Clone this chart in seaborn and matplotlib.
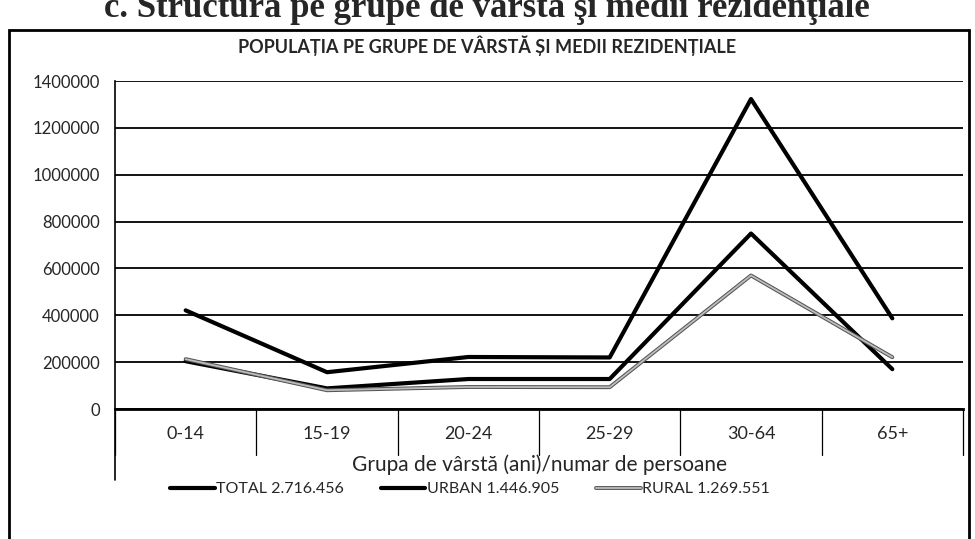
import matplotlib
matplotlib.use("Agg")
import matplotlib.pyplot as plt
import matplotlib.patheffects as pe
from matplotlib.patches import Rectangle
import pandas as pd
import seaborn as sns

# data
age_groups = ["0-14", "15-19", "20-24", "25-29", "30-64", "65+"]
total = [421000, 157000, 222000, 220000, 1323000, 387000]
urban = [204000, 88000, 128000, 128000, 749000, 170000]
rural = [213000, 80000, 94000, 93000, 570000, 221000]
series_names = ["TOTAL 2.716.456", "URBAN 1.446.905", "RURAL 1.269.551"]

df = pd.DataFrame({
    "grupa": age_groups * 3,
    "pos": list(range(len(age_groups))) * 3,
    "valoare": total + urban + rural,
    "serie": [series_names[0]] * 6 + [series_names[1]] * 6 + [series_names[2]] * 6,
})

sns.set_theme(style="white")
plt.rcParams["font.family"] = ["Lato", "DejaVu Sans"]

W, H = 975, 539
fig = plt.figure(figsize=(9.75, 5.39), dpi=100)
ax = fig.add_axes([115 / W, 1 - 409 / H, 848 / W, 328 / H])

palette = {series_names[0]: "black", series_names[1]: "black", series_names[2]: "#bdbdbd"}
sns.lineplot(data=df, x="pos", y="valoare", hue="serie", palette=palette,
             hue_order=series_names, linewidth=3, ax=ax, legend=True)

# rural line: light line with a dark outline, like the scan
rural_fx = [pe.Stroke(linewidth=2.8, foreground="#555555"), pe.Normal()]
rural_line = ax.get_lines()[2]
rural_line.set_linewidth(1.3)
rural_line.set_path_effects(rural_fx)

ax.set_xlim(-0.5, len(age_groups) - 0.5)
ax.set_ylim(0, 1400000)
ax.set_yticks(range(0, 1400001, 200000))
ax.set_yticklabels([str(v) for v in range(0, 1400001, 200000)], fontsize=12)
ax.yaxis.grid(True, color="black", linewidth=1.3)
ax.set_axisbelow(True)
ax.set_xticks(range(len(age_groups)))
ax.set_xticklabels(age_groups, fontsize=13)
ax.tick_params(axis="x", length=0, pad=12)
ax.tick_params(axis="y", length=0, pad=11)
for s in ["top", "right"]:
    ax.spines[s].set_visible(False)
ax.spines["left"].set_color("black")
ax.spines["left"].set_linewidth(1.2)
ax.spines["bottom"].set_color("black")
ax.spines["bottom"].set_linewidth(2)

ax.set_xlabel("Grupa de vârstă (ani)/numar de persoane", fontsize=15)
ax.xaxis.set_label_coords(0.5, -(465 - 409) / 328)
ax.xaxis.label.set_va("center")
ax.set_ylabel("")

# table-style separators below the x axis
trans = ax.get_xaxis_transform()
for b in [i + 0.5 for i in range(-1, len(age_groups))]:
    ax.plot([b, b], [0, -(455 - 409) / 328], color="black", linewidth=0.9,
            transform=trans, clip_on=False)
ax.plot([-0.5, -0.5], [0, -(480 - 409) / 328], color="black", linewidth=1.2,
        transform=trans, clip_on=False)

leg = ax.legend(loc="center", bbox_to_anchor=(470 / W, 1 - 489 / H), bbox_transform=fig.transFigure,
                ncol=3, frameon=False, fontsize=11.5, handlelength=2.8, handletextpad=0.1,
                columnspacing=2.3)
for h in leg.get_lines():
    h.set_linewidth(3)
leg.get_lines()[2].set_linewidth(1.3)
leg.get_lines()[2].set_path_effects(rural_fx)

fig.text(487 / W, 1 - 46 / H, "POPULAȚIA PE GRUPE DE VÂRSTĂ ȘI MEDII REZIDENȚIALE",
         ha="center", va="center", fontsize=13, fontweight="bold")

# heading of the scanned page, cut off at the top edge
fig.text(487 / W, 1 - 17 / H, "c. Structura pe grupe de vârstă şi medii rezidenţiale",
         ha="center", va="baseline", fontsize=25, fontweight="bold",
         family=["Liberation Serif", "DejaVu Serif"])

# chart frame
fig.patches.append(Rectangle((9 / W, -0.05), 960 / W, 1.05 - 30 / H, transform=fig.transFigure,
                             fill=False, edgecolor="black", linewidth=2))

fig.savefig("out.png", dpi=100, facecolor="white")
